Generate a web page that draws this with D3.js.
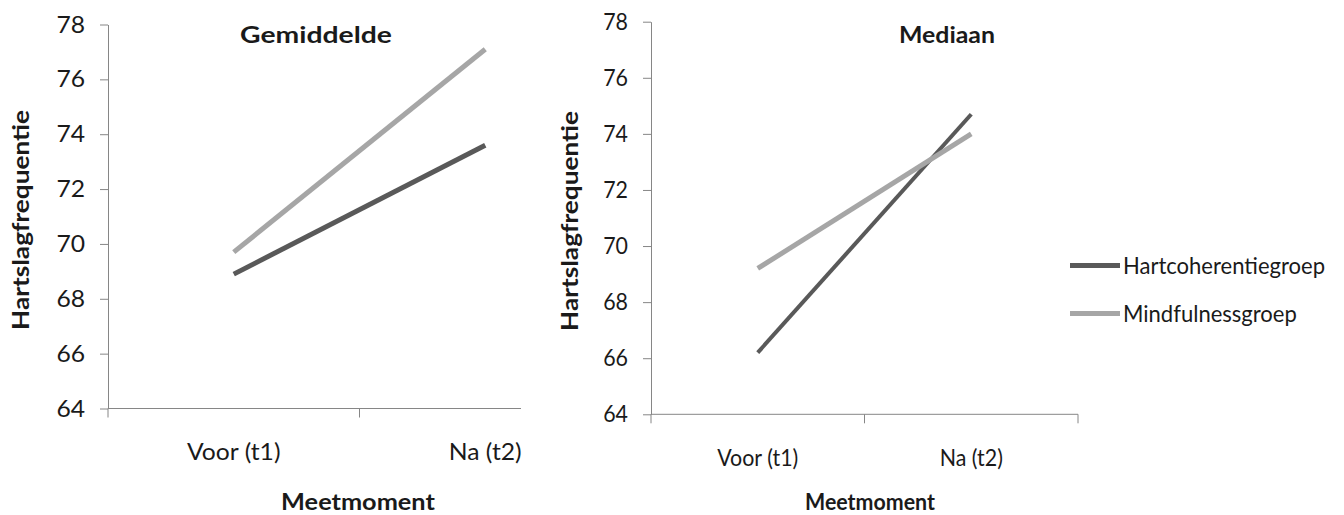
<!DOCTYPE html>
<html lang="nl">
<head>
<meta charset="UTF-8">
<title>Hartslagfrequentie per meetmoment</title>
<script src="https://d3js.org/d3.v7.min.js"></script>
<style>
  body { margin: 0; background: #fff; }
  svg { display: block; }
  text { font-family: Lato, "Open Sans", sans-serif; fill: #1a1a1a; }
  .tick text { font-size: 23.5px; }
  .title, .xtitle, .ytitle { font-weight: bold; font-size: 23px; }
  .legend text { font-size: 23.5px; }
</style>
</head>
<body>
<svg width="1344" height="515"></svg>
<script>
// data
const categories = ["Voor (t1)", "Na (t2)"];
const yTicks = [64, 66, 68, 70, 72, 74, 76, 78];
const seriesNames = ["Hartcoherentiegroep", "Mindfulnessgroep"];
const seriesColors = ["#595959", "#a6a6a6"];

const gemHart = [68.9, 73.6];
const gemMind = [69.7, 77.1];
const medHart = [66.2, 74.7];
const medMind = [69.2, 74.0];

const svg = d3.select("svg");
const axisColor = "#868686";

// the two charts were exported at different widths, so text is stretched per panel
function fit(sel, f) {
  sel.each(function() {
    const w = this.getComputedTextLength();
    d3.select(this).attr("textLength", w * f).attr("lengthAdjust", "spacingAndGlyphs");
  });
}

function panel(cfg) {
  const g = svg.append("g");

  const x = d3.scaleBand().domain(categories).range(cfg.xRange).padding(0);
  const y = d3.scaleLinear().domain([64, 78]).range(cfg.yRange);
  const bottom = cfg.yRange[0];

  // y axis
  const ya = g.append("g")
      .attr("transform", `translate(${cfg.xRange[0]},0)`)
      .call(d3.axisLeft(y).tickValues(yTicks).tickSize(8).tickSizeOuter(0).tickPadding(15));
  ya.select(".domain").attr("stroke", axisColor);
  ya.selectAll(".tick line").attr("stroke", axisColor);

  // x axis: labels only, line and tick marks sit between categories like Excel
  const xa = g.append("g")
      .attr("transform", `translate(0,${bottom})`)
      .call(d3.axisBottom(x).tickSize(0).tickPadding(35));
  xa.select(".domain").remove();

  g.append("line")
      .attr("x1", cfg.xRange[0]).attr("x2", cfg.xEnd)
      .attr("y1", bottom).attr("y2", bottom)
      .attr("stroke", axisColor);

  const bounds = d3.range(categories.length + 1)
      .map(i => cfg.xRange[0] + i * x.step())
      .filter(v => v <= cfg.xEnd + 1);
  g.selectAll(".xb").data(bounds).enter().append("line")
      .attr("x1", d => d).attr("x2", d => d)
      .attr("y1", bottom).attr("y2", bottom + 9)
      .attr("stroke", axisColor);

  // series lines
  const line = d3.line()
      .x((d, i) => x(categories[i]) + x.bandwidth() / 2)
      .y(d => y(d));

  [cfg.hart, cfg.mind].forEach((vals, k) => {
    g.append("path")
        .attr("d", line(vals))
        .attr("fill", "none")
        .attr("stroke", seriesColors[k])
        .attr("stroke-width", cfg.lineW[k]);
  });

  const title = g.append("text").attr("class", "title")
      .attr("x", cfg.titleX).attr("y", 43)
      .attr("text-anchor", "middle")
      .text(cfg.title);

  const xt = g.append("text").attr("class", "xtitle")
      .attr("x", cfg.xTitleX).attr("y", 510)
      .attr("text-anchor", "middle")
      .text("Meetmoment");

  const yt = g.append("text").attr("class", "ytitle")
      .attr("transform", `translate(${cfg.yLabelX},${cfg.yLabelY}) rotate(-90)`)
      .attr("text-anchor", "middle")
      .text("Hartslagfrequentie");

  fit(g.selectAll(".tick text"), cfg.fit.tick);
  fit(title, cfg.fit.title);
  fit(xt, cfg.fit.xtitle);
  fit(yt, 1.14);

  return g;
}

panel({
  xRange: [108, 611], xEnd: 521, yRange: [408.5, 24.5],
  title: "Gemiddelde", titleX: 316, xTitleX: 358,
  hart: gemHart, mind: gemMind, lineW: [5, 5],
  yLabelX: 29, yLabelY: 220,
  fit: { tick: 1.05, title: 1.23, xtitle: 1.1 }
});

const right = panel({
  xRange: [651, 1078], xEnd: 1078, yRange: [414.3, 21.7],
  title: "Mediaan", titleX: 947, xTitleX: 870,
  hart: medHart, mind: medMind, lineW: [4, 5],
  yLabelX: 578, yLabelY: 221,
  fit: { tick: 0.91, title: 1.08, xtitle: 0.93 }
});

// legend, squeezed so the longest entry ends where it does in the source
const legend = right.append("g").attr("class", "legend");
seriesNames.forEach((name, i) => {
  legend.append("line")
      .attr("x1", 1070).attr("x2", 1120)
      .attr("y1", 265.5 + i * 48).attr("y2", 265.5 + i * 48)
      .attr("stroke", seriesColors[i]).attr("stroke-width", 5);
  legend.append("text")
      .attr("x", 1123).attr("y", 274 + i * 48)
      .text(name);
});
const legendTexts = legend.selectAll("text");
const longest = d3.max(legendTexts.nodes(), n => n.getComputedTextLength());
fit(legendTexts, 202 / longest);
</script>
</body>
</html>
